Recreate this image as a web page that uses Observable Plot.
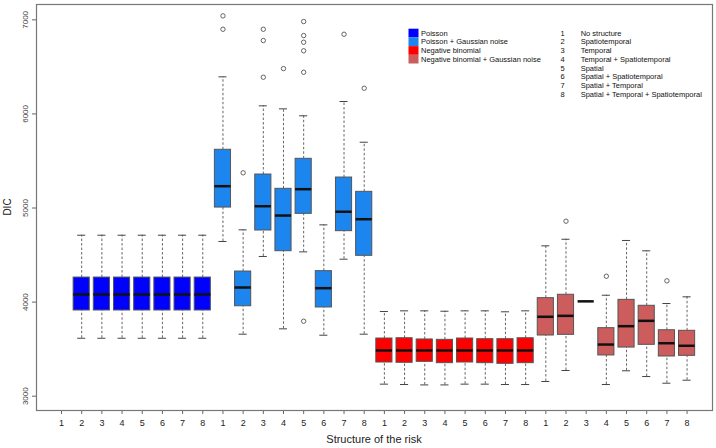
<!DOCTYPE html>
<html><head><meta charset="utf-8">
<script src="https://cdn.jsdelivr.net/npm/d3@7"></script>
<script src="https://cdn.jsdelivr.net/npm/@observablehq/plot@0.6"></script>
<style>body{margin:0;background:#fff;} svg{display:block}</style>
</head><body><div id="chart"></div>
<script>
const groups = ["Poisson", "Poisson + Gaussian noise", "Negative binomial", "Negative binomial + Gaussian noise"];
const groupColors = ["#0000FF", "#1C86EE", "#FF0000", "#CD5C5C"];
const structureCodes = [1, 2, 3, 4, 5, 6, 7, 8];
const structureNames = ["No structure", "Spatiotemporal", "Temporal", "Temporal + Spatiotemporal", "Spatial", "Spatial + Spatiotemporal", "Spatial + Temporal", "Spatial + Temporal + Spatiotemporal"];
const yTicks = [3000, 4000, 5000, 6000, 7000];

// box statistics, 32 boxes (4 groups x 8 structures); null = no box
const whiskerLow = [null, 3616, 3616, 3616, 3616, 3616, 3616, 3616,
  4644, 3659, 4485, 3716, 4534, 3648, 4456, 3659,
  3128, 3124, 3120, 3120, 3128, 3128, 3124, 3124,
  3156, 3273, 4008, 3124, 3270, 3209, 3138, 3170];
const q1 = [null, 3911, 3911, 3911, 3911, 3911, 3911, 3911,
  5005, 3956, 4761, 4541, 4938, 3943, 4754, 4492,
  3358, 3355, 3365, 3351, 3358, 3351, 3344, 3351,
  3645, 3652, 4008, 3433, 3517, 3546, 3422, 3429];
const median = [null, 4081, 4081, 4081, 4081, 4081, 4081, 4081,
  5232, 4155, 5019, 4920, 5200, 4148, 4960, 4881,
  3486, 3486, 3486, 3486, 3486, 3486, 3486, 3486,
  3844, 3854, 4008, 3549, 3744, 3801, 3563, 3536];
const q3 = [null, 4261, 4261, 4261, 4261, 4261, 4261, 4261,
  5619, 4325, 5356, 5204, 5523, 4329, 5324, 5172,
  3613, 3616, 3603, 3599, 3613, 3606, 3606, 3616,
  4042, 4078, 4008, 3723, 4024, 3961, 3701, 3695];
const whiskerHigh = [null, 4711, 4711, 4711, 4711, 4711, 4711, 4711,
  6394, 4768, 6086, 6054, 5980, 4821, 6132, 5699,
  3900, 3907, 3907, 3903, 3907, 3907, 3897, 3907,
  4598, 4668, 4008, 4073, 4655, 4545, 3985, 4056];

// outliers: box index (1..32) and value
const outlierBox = [9, 9, 10, 11, 11, 11, 12, 13, 13, 13, 13, 13, 13, 15, 16, 26, 28, 31];
const outlierValue = [7042, 6900, 5374, 6900, 6780, 6390, 6482, 6982, 6833, 6762, 6671, 6443, 3797, 6847, 6273, 4860, 4275, 4226];

const boxes = whiskerLow.map((lo, i) => ({
  pos: i + 1,
  group: groups[Math.floor(i / 8)],
  lo, q1: q1[i], med: median[i], q3: q3[i], hi: whiskerHigh[i]
})).filter(d => d.lo != null);
const outliers = outlierBox.map((b, i) => ({pos: b, value: outlierValue[i]}));

const half = 0.4, staple = 0.2;
const font = "'Liberation Sans', Arial, Helvetica, sans-serif";

const plot = Plot.plot({
  width: 716, height: 448,
  marginLeft: 36, marginRight: 4, marginTop: 4, marginBottom: 38,
  style: {fontFamily: font, background: "#fff"},
  x: {domain: [-0.24, 33.26], axis: null},
  y: {domain: [2848, 7163], axis: null},
  color: {domain: groups, range: groupColors},
  marks: [
    Plot.ruleX(boxes, {x: "pos", y1: "lo", y2: "q1", stroke: "#555", strokeWidth: 0.9, strokeDasharray: "2.5,2"}),
    Plot.ruleX(boxes, {x: "pos", y1: "q3", y2: "hi", stroke: "#555", strokeWidth: 0.9, strokeDasharray: "2.5,2"}),
    Plot.ruleY(boxes, {y: "lo", x1: d => d.pos - staple, x2: d => d.pos + staple, stroke: "#444", strokeWidth: 1}),
    Plot.ruleY(boxes, {y: "hi", x1: d => d.pos - staple, x2: d => d.pos + staple, stroke: "#444", strokeWidth: 1}),
    Plot.rect(boxes, {x1: d => d.pos - half, x2: d => d.pos + half, y1: "q1", y2: "q3", fill: "group", stroke: "#555", strokeWidth: 1}),
    Plot.ruleY(boxes, {y: "med", x1: d => d.pos - half, x2: d => d.pos + half, stroke: "#111", strokeWidth: 2.5}),
    Plot.dot(outliers, {x: "pos", y: "value", r: 2.2, stroke: "#555", strokeWidth: 0.9, fill: "none"}),
    Plot.axisX({ticks: d3.range(1, 33), tickSize: 4, tickPadding: 5, fontSize: 9, label: null,
      tickFormat: d => structureCodes[(d - 1) % 8], stroke: "#666", fill: "#222"}),
    Plot.axisY({ticks: yTicks, tickSize: 4, tickRotate: -90, fontSize: 8, label: null,
      tickFormat: d => String(d), stroke: "#666", fill: "#444"}),
    Plot.frame({stroke: "#777", strokeWidth: 1.2})
  ]
});

document.getElementById("chart").appendChild(plot);

const svg = d3.select(plot);
// axis titles
svg.append("text").attr("x", 374).attr("y", 443).attr("text-anchor", "middle")
  .attr("font-family", font).attr("font-size", 11).attr("fill", "#222").text("Structure of the risk");
svg.append("text").attr("transform", "translate(11,207) rotate(-90)").attr("text-anchor", "middle")
  .attr("font-family", font).attr("font-size", 10).attr("fill", "#222").text("DIC");

// legend 1: groups
const lg = svg.append("g").attr("font-family", font).attr("font-size", 7.5).attr("fill", "#111").attr("text-anchor", "start");
groups.forEach((g, i) => {
  const y = 28.7 + i * 8.7;
  lg.append("rect").attr("x", 408.5).attr("y", y).attr("width", 10).attr("height", 8.7).attr("fill", groupColors[i]);
  lg.append("text").attr("x", 421).attr("y", y + 7).attr("text-anchor", "start").text(g);
});
// legend 2: structures
structureNames.forEach((s, i) => {
  const y = 32.7 + i * 8.76;
  lg.append("text").attr("x", 562.7).attr("y", y + 2.8).attr("text-anchor", "middle").text(structureCodes[i]);
  lg.append("text").attr("x", 580.7).attr("y", y + 2.8).attr("text-anchor", "start").text(s);
});
</script>
</body></html>
